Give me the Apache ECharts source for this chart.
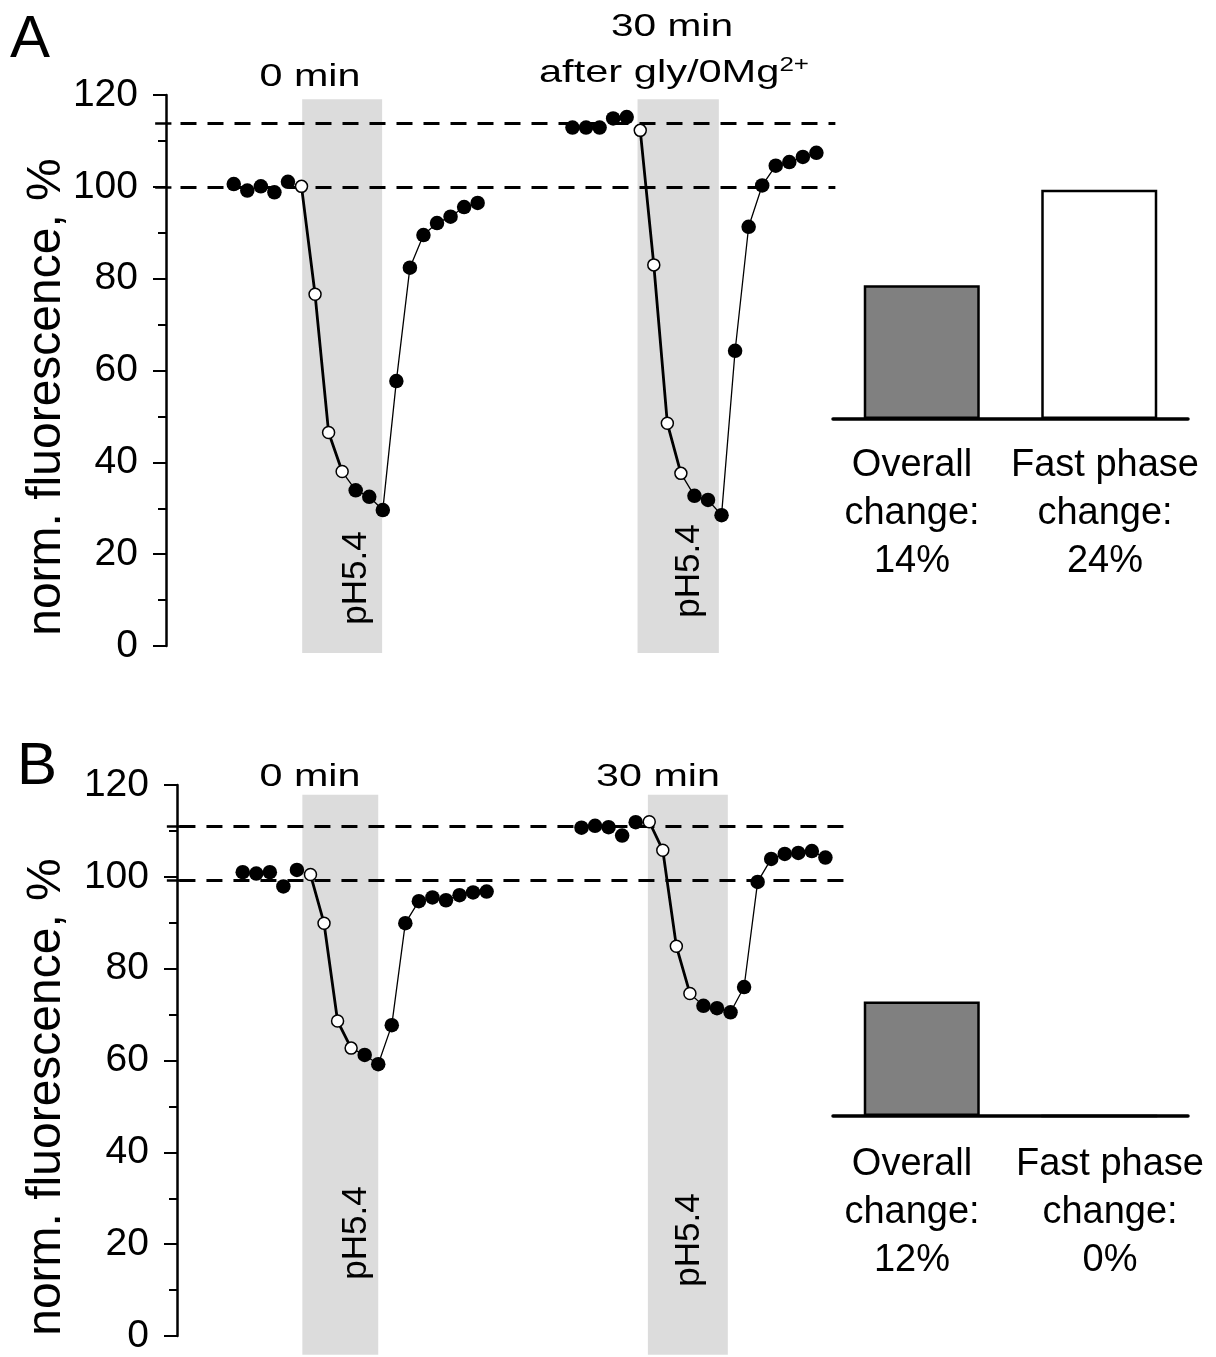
<!DOCTYPE html>
<html>
<head>
<meta charset="utf-8">
<script src="https://cdn.jsdelivr.net/npm/echarts@6/dist/echarts.min.js"></script>
<style>
  html, body { margin: 0; padding: 0; background: #ffffff; }
  #chart { width: 1216px; height: 1357px; }
</style>
</head>
<body>
<div id="chart"></div>
<script>
// ---------------- data ----------------
const times1 = [0, 1, 2, 3, 4, 5, 6, 7, 8, 9, 10, 11, 12, 13, 14, 15, 16, 17, 18];
const times2 = [25, 26, 27, 28, 29, 30, 31, 32, 33, 34, 35, 36, 37, 38, 39, 40, 41, 42, 43];

// Panel A: norm. fluorescence, %
const fluoA1 = [100.6, 99.2, 100.1, 98.8, 101.1, 100.1, 76.6, 46.5, 38.0, 33.9, 32.5, 29.6, 57.7, 82.4, 89.5, 92.1, 93.5, 95.6, 96.5];
const fluoA2 = [112.9, 112.9, 112.9, 114.9, 115.2, 112.3, 83.0, 48.5, 37.6, 32.7, 31.8, 28.5, 64.3, 91.3, 100.3, 104.6, 105.4, 106.5, 107.4];
// Panel B
const fluoB1 = [101.0, 100.7, 101.0, 97.9, 101.5, 100.5, 89.9, 68.6, 62.7, 61.2, 59.2, 67.7, 89.9, 94.7, 95.5, 94.9, 96.0, 96.6, 96.8];
const fluoB2 = [110.7, 111.1, 110.8, 109.0, 111.9, 112.0, 105.8, 84.9, 74.6, 71.9, 71.4, 70.5, 76.0, 98.9, 103.9, 105.0, 105.2, 105.6, 104.2];

// open-circle (fast phase) samples: indices 5..8
const fastStart = 5, fastEnd = 8;

// reference (dashed) levels
const refA = [100, 113.8];
const refB = [99.3, 111.1];

// pH5.4 application windows (time units) and their vertical extent (% units)
const bandsA = [[5.05, 10.95], [29.8, 35.8]];
const bandsB = [[4.4, 10.0], [29.9, 35.8]];
const bandYA = [-1.5, 119.1];
const bandYB = [-4.1, 117.9];

// bar summaries
const barCats = ['Overall', 'Fast phase'];
const barA = [14, 24];
const barB = [12, 0];
const barFill = ['#808080', '#ffffff'];

// text
const titlesA = ['0 min', '30 min', 'after gly/0Mg'];
const titlesB = ['0 min', '30 min'];
const yName = 'norm. fluorescence, %';
const bandLabel = 'pH5.4';

// ---------------- build ----------------
const FONT = "'Liberation Sans', Arial, Helvetica, sans-serif";

function pairs(times, vals, a, b) {
  const out = [];
  for (let i = a; i <= b; i++) out.push([times[i], vals[i]]);
  return out;
}

function traceSeries(gi, times, vals) {
  const n = vals.length;
  const filled = pairs(times, vals, 0, fastStart - 1).concat(pairs(times, vals, fastEnd + 1, n - 1));
  return [
    {
      type: 'line', xAxisIndex: gi, yAxisIndex: gi,
      data: pairs(times, vals, fastEnd, n - 1),
      symbol: 'none', showSymbol: false, silent: true,
      lineStyle: { color: '#000', width: 1.3 }, z: 5
    },
    {
      type: 'line', xAxisIndex: gi, yAxisIndex: gi,
      data: pairs(times, vals, fastStart, fastEnd),
      symbol: 'circle', symbolSize: 12, showSymbol: true, clip: false, silent: true,
      lineStyle: { color: '#000', width: 2.8 },
      itemStyle: { color: '#ffffff', borderColor: '#000', borderWidth: 1.5, opacity: 1 },
      z: 7
    },
    {
      type: 'scatter', xAxisIndex: gi, yAxisIndex: gi,
      data: filled, symbol: 'circle', symbolSize: 14.5, silent: true,
      itemStyle: { color: '#000', opacity: 1 }, z: 6
    }
  ];
}

// overlay (bands + dashed reference levels) drawn in a grid with the same scale
function overlaySeries(gi, refs, bands, bandY, ext) {
  return {
    type: 'line', xAxisIndex: gi, yAxisIndex: gi, data: [],
    symbol: 'none', silent: true, z: 1,
    markArea: {
      silent: true, z: 1,
      itemStyle: { color: '#dcdcdc' },
      data: bands.map(b => [{ coord: [b[0], bandY[0]] }, { coord: [b[1], bandY[1]] }])
    },
    markLine: {
      silent: true, symbol: ['none', 'none'], z: 4,
      label: { show: false },
      lineStyle: { color: '#000', width: 3, type: [16, 11] },
      data: refs.map(r => [{ coord: [ext.x0, r] }, { coord: [ext.x1, r] }])
        .concat(refs.map(r => [
          { coord: [ext.t0, r], lineStyle: { type: 'solid', width: 2.5 } },
          { coord: [ext.t1, r] }
        ]))
    }
  };
}

function traceYAxis(gi) {
  return {
    gridIndex: gi, type: 'value', min: 0, max: 120, interval: 20,
    axisLine: { show: true, onZero: false, lineStyle: { color: '#000', width: 2.5 } },
    axisTick: { show: true, length: 13, lineStyle: { color: '#000', width: 2 } },
    minorTick: { show: true, splitNumber: 2, length: 8, lineStyle: { color: '#000', width: 2 } },
    splitLine: { show: false },
    minorSplitLine: { show: false },
    axisLabel: { fontSize: 39, color: '#000', margin: 28, fontFamily: FONT }
  };
}

function barSeries(gi, vals) {
  return {
    type: 'bar', xAxisIndex: gi, yAxisIndex: gi, barWidth: 116, silent: true,
    data: vals.map((v, i) => ({ value: v, itemStyle: { color: barFill[i] } })),
    itemStyle: { borderColor: '#000', borderWidth: 2.5 }, z: 3
  };
}

function txt(t, x, y, size, opts) {
  opts = opts || {};
  return {
    type: 'text', x: x, y: y,
    rotation: opts.rot || 0, scaleX: opts.sx || 1, scaleY: 1,
    silent: true, z: 100,
    style: {
      text: t, x: 0, y: 0, fill: '#000',
      font: size + 'px ' + FONT,
      align: 'center', verticalAlign: 'middle',
      lineHeight: opts.lh || size * 1.2,
      rich: opts.rich
    }
  };
}

const graphics = [
  txt('A', 30, 40, 60),
  txt('B', 37, 767, 60),
  txt(titlesA[0], 310, 77, 32, { sx: 1.29 }),
  txt(titlesA[1], 672, 27, 32, { sx: 1.27 }),
  txt('{a|' + titlesA[2] + '}{s|2+}', 674, 73, 32, { sx: 1.3,
    rich: { a: { fontSize: 32, fontFamily: FONT, lineHeight: 36 },
            s: { fontSize: 20, fontFamily: FONT, verticalAlign: 'top', lineHeight: 36 } } }),
  txt(titlesB[0], 310, 777, 32, { sx: 1.29 }),
  txt(titlesB[1], 658, 777, 32, { sx: 1.29 }),
  txt(yName, 47, 397, 48, { rot: Math.PI / 2 }),
  txt(yName, 47, 1097, 48, { rot: Math.PI / 2 }),
  txt(bandLabel, 356, 578, 35, { rot: Math.PI / 2 }),
  txt(bandLabel, 689, 571, 35, { rot: Math.PI / 2 }),
  txt(bandLabel, 356, 1233, 35, { rot: Math.PI / 2 }),
  txt(bandLabel, 689, 1240, 35, { rot: Math.PI / 2 })
];
const barLabelX = [[912, 1105], [912, 1110]];
const barLabelY = [514, 1213];
[barA, barB].forEach((vals, p) => {
  vals.forEach((v, i) => {
    graphics.push(txt(barCats[i] + '\nchange:\n' + v + '%', barLabelX[p][i], barLabelY[p], 38, { lh: 48 }));
  });
});

const catAxis = (gi) => ({
  gridIndex: gi, type: 'category', data: barCats,
  axisLine: { show: true, lineStyle: { color: '#000', width: 3.5 } },
  axisTick: { show: false }, axisLabel: { show: false }
});

const option = {
  backgroundColor: '#ffffff',
  animation: false,
  grid: [
    { left: 166, top: 95, width: 677.5, height: 551 },      // 0: trace A
    { left: 833, top: 180.25, width: 355, height: 238.75 }, // 1: bars A
    { left: 177, top: 785, width: 675.5, height: 551 },     // 2: trace B
    { left: 833, top: 877.25, width: 355, height: 238.75 }, // 3: bars B
    { left: 150, top: 95, width: 693.5, height: 558 },      // 4: overlay A
    { left: 161, top: 785, width: 691.5, height: 570 }      // 5: overlay B
  ],
  xAxis: [
    { gridIndex: 0, type: 'value', min: -5, max: 45, show: false },
    catAxis(1),
    { gridIndex: 2, type: 'value', min: -4.85, max: 45, show: false },
    catAxis(3),
    { gridIndex: 4, type: 'value', min: -6.181, max: 45, show: false },
    { gridIndex: 5, type: 'value', min: -6.031, max: 45, show: false }
  ],
  yAxis: [
    traceYAxis(0),
    { gridIndex: 1, type: 'value', min: 0, max: 25, show: false },
    traceYAxis(2),
    { gridIndex: 3, type: 'value', min: 0, max: 25, show: false },
    { gridIndex: 4, type: 'value', min: -1.5245, max: 120, show: false },
    { gridIndex: 5, type: 'value', min: -4.138, max: 120, show: false }
  ],
  series: []
    .concat([overlaySeries(4, refA, bandsA, bandYA, { x0: -3.93, x1: 44.4, t0: -5.8, t1: -4.6 })])
    .concat([overlaySeries(5, refB, bandsB, bandYB, { x0: -4.67, x1: 44.6, t0: -5.6, t1: -4.4 })])
    .concat(traceSeries(0, times1, fluoA1))
    .concat(traceSeries(0, times2, fluoA2))
    .concat([barSeries(1, barA)])
    .concat(traceSeries(2, times1, fluoB1))
    .concat(traceSeries(2, times2, fluoB2))
    .concat([barSeries(3, barB)]),
  graphic: graphics
};

const chart = echarts.init(document.getElementById('chart'), null, { renderer: 'canvas' });
chart.setOption(option);
</script>
</body>
</html>
